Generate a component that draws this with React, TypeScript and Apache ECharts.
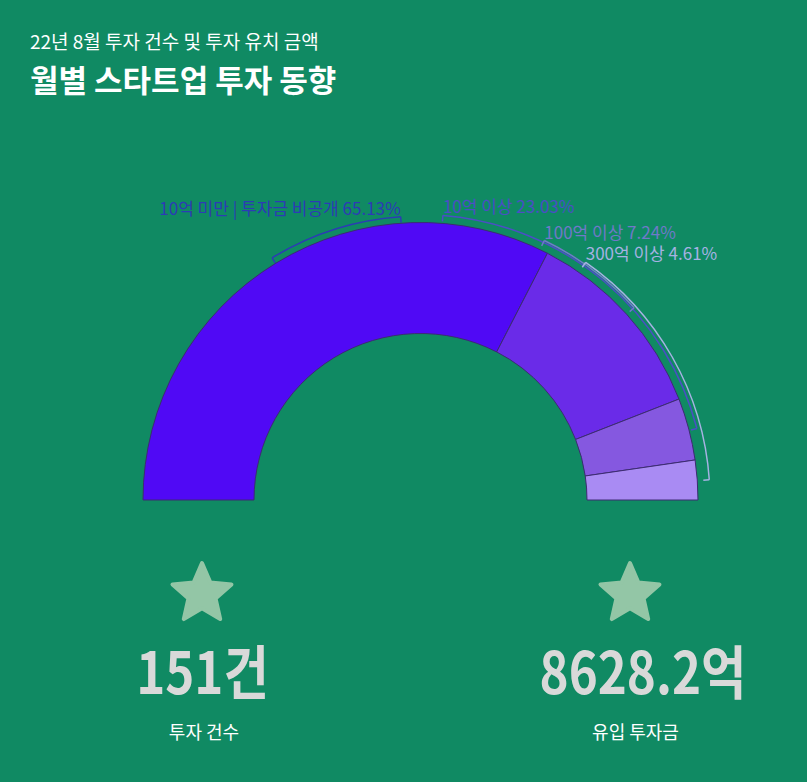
import React, { useEffect, useRef } from "react";
import * as echarts from "echarts";

// ---- data ----
const categories = ["10억 미만 | 투자금 비공개", "10억 이상", "100억 이상", "300억 이상"];
const shares = [65.13, 23.03, 7.24, 4.61];
const investCount = 151;
const investAmount = 8628.2;
const subtitle = "22년 8월 투자 건수 및 투자 유치 금액";
const title = "월별 스타트업 투자 동향";
const countCaption = "투자 건수";
const amountCaption = "유입 투자금";

// ---- styles / layout ----
const BG = "#108a63";
const sliceColors = ["#5009f5", "#6a2be8", "#8558e0", "#a98bf3"];
const bracketColors = ["#2c3bb6", "#4b4ec6", "#6f79c9", "#a6b2e3"];
const CX = 420.5;
const CY = 500;
const bracketLayout = [
  { r: 284, a0: 121.5, a1: 94 },
  { r: 285.5, a0: 85.5, a1: 14.5 },
  { r: 287.5, a0: 64.5, a1: 42 },
  { r: 289.5, a0: 55.2, a1: 4 },
];
const FONT = "'Noto Sans CJK KR', 'Noto Sans', sans-serif";

function pt(r: number, deg: number): [number, number] {
  const a = (deg * Math.PI) / 180;
  return [CX + r * Math.cos(a), CY - r * Math.sin(a)];
}

function starPoints(cx: number, cy: number, R: number, ratio: number) {
  const pts: number[][] = [];
  for (let i = 0; i < 10; i++) {
    const rr = i % 2 === 0 ? R : R * ratio;
    const a = -Math.PI / 2 + (i * Math.PI) / 5;
    pts.push([cx + rr * Math.cos(a), cy + rr * Math.sin(a)]);
  }
  return pts;
}

export default function App() {
  const ref = useRef<HTMLDivElement>(null);
  useEffect(() => {
    if (!ref.current) return;
    const chart = echarts.init(ref.current, null, { renderer: "svg" });

    const graphics: any[] = [];
    graphics.push({
      type: "text",
      style: { text: subtitle, x: 30, y: 40, fill: "#ffffff", font: `19px ${FONT}`, textVerticalAlign: "middle" },
    });
    graphics.push({
      type: "text",
      style: { text: title, x: 30, y: 78, fill: "#ffffff", font: `bold 31px ${FONT}`, textVerticalAlign: "middle" },
    });

    bracketLayout.forEach((b, i) => {
      const c = bracketColors[i];
      graphics.push({
        type: "arc",
        shape: { cx: CX, cy: CY, r: b.r, startAngle: (-b.a0 * Math.PI) / 180, endAngle: (-b.a1 * Math.PI) / 180, clockwise: true },
        style: { stroke: c, lineWidth: 1.5, fill: "none" },
        silent: true,
      });
      [b.a0, b.a1].forEach((a) => {
        const p1 = pt(b.r, a);
        const p2 = pt(b.r - 6, a);
        graphics.push({
          type: "line",
          shape: { x1: p1[0], y1: p1[1], x2: p2[0], y2: p2[1] },
          style: { stroke: c, lineWidth: 1.5 },
          silent: true,
        });
      });
      const first = i === 0;
      const anchor = pt(b.r, first ? b.a1 : b.a0);
      graphics.push({
        type: "text",
        style: {
          text: `${categories[i]} ${shares[i].toFixed(2)}%`,
          x: anchor[0],
          y: anchor[1] - 1,
          fill: c,
          font: `17px ${FONT}`,
          textAlign: first ? "right" : "left",
          textVerticalAlign: "bottom",
        },
        silent: true,
      });
    });

    const blocks = [
      { x: 202, numX: 202.5, capX: 204, value: `${investCount}건`, caption: countCaption },
      { x: 630, numX: 643, capX: 635.5, value: `${investAmount.toFixed(1)}억`, caption: amountCaption },
    ];
    blocks.forEach((bk) => {
      graphics.push({
        type: "polygon",
        shape: { points: starPoints(bk.x, 594, 31, 0.46) },
        style: { fill: "#93c6a6", stroke: "#93c6a6", lineWidth: 4, lineJoin: "round" },
        silent: true,
      });
      graphics.push({
        type: "text",
        x: bk.numX,
        y: 669,
        scaleX: 0.85,
        style: { text: bk.value, x: 0, y: 0, fill: "#d9d9d9", font: `bold 58px ${FONT}`, textAlign: "center", textVerticalAlign: "middle" },
      });
      graphics.push({
        type: "text",
        style: { text: bk.caption, x: bk.capX, y: 731, fill: "#ffffff", font: `18px ${FONT}`, textAlign: "center", textVerticalAlign: "middle" },
      });
    });

    chart.setOption({
      animation: false,
      backgroundColor: BG,
      series: [
        {
          type: "pie",
          center: [CX, CY],
          radius: [166.5, 277.5],
          startAngle: 180,
          endAngle: 0,
          clockwise: true,
          silent: true,
          label: { show: false },
          labelLine: { show: false },
          emphasis: { disabled: true },
          itemStyle: { borderColor: "#3d2b72", borderWidth: 1 },
          data: categories.map((name, i) => ({ name, value: shares[i], itemStyle: { color: sliceColors[i] } })),
        },
      ],
      graphic: { elements: graphics },
    });
    return () => chart.dispose();
  }, []);
  return <div ref={ref} style={{ position: "fixed", left: 0, top: 0, width: 807, height: 782 }} />;
}
